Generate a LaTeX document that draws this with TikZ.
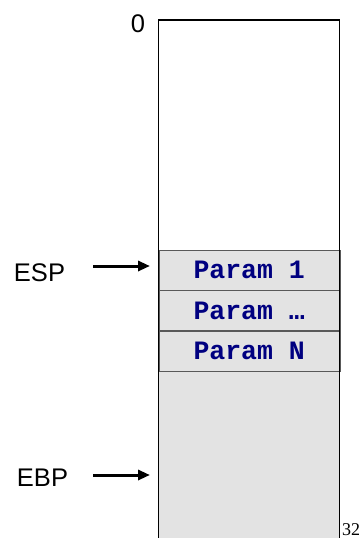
\documentclass[tikz,border=0pt]{standalone}
\usepackage{fontspec}
\setmainfont{Liberation Sans}
\newfontfamily\codefont{Liberation Mono}
\newfontfamily\numfont{Liberation Serif}
\usetikzlibrary{positioning,arrows.meta}
\definecolor{slotgrey}{RGB}{227,227,227}
\definecolor{codeblue}{RGB}{0,0,128}
\begin{document}
\begin{tikzpicture}[x=1pt, y=1pt]
  \tikzset{
    slot/.style={draw=black!65, fill=slotgrey, minimum width=181pt, minimum height=40pt, inner sep=0pt,
      text=codeblue, font=\codefont\bfseries\fontsize{26.5}{26.5}\selectfont},
    reg/.style={inner sep=0pt, font=\fontsize{25.5}{25.5}\selectfont},
    ptr/.style={-{Triangle[length=12pt,width=10pt]}, line width=3pt}
  }
  \useasboundingbox (0,0) rectangle (362,-538);

  % free part of the stack on top, used part below it
  \fill[white] (158.5,-20) rectangle (339.5,-250);
  \fill[slotgrey] (158.5,-250) rectangle (339.5,-538);
  \node[slot, anchor=north west] (p1) at (158.5,-250) {Param 1};
  \node[slot, below=0pt of p1] (pdots) {Param …};
  \node[slot, below=0pt of pdots] (pn) {Param N};
  \draw[line width=1.5pt, line join=miter] (158.5,-538) -- (158.5,-20) -- (339.5,-20) -- (339.5,-538);

  \node[reg] (zero) at (138,-24) {0};
  \node[inner sep=0pt, anchor=base west, font=\numfont\fontsize{18}{18}\selectfont] (size) at (342,-535) {32};

  % stack registers
  \node[reg] (esp) at (39.5,-272.5) {ESP};
  \node[reg] (ebp) at (42.5,-477.5) {EBP};
  \coordinate (esptip) at (150,-266);
  \coordinate (ebptip) at (150,-475);
  \draw[ptr] (93,0 |- esptip) -- (esptip);
  \draw[ptr] (93,0 |- ebptip) -- (ebptip);
\end{tikzpicture}
\end{document}
